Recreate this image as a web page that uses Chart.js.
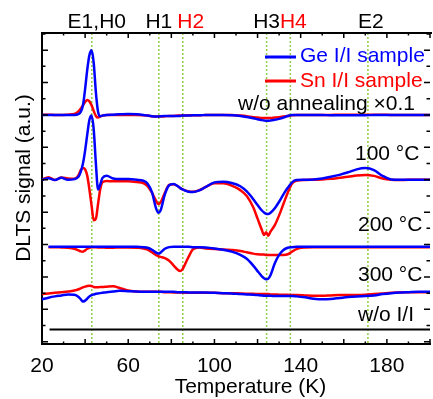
<!DOCTYPE html>
<html>
<head>
<meta charset="utf-8">
<script src="https://cdn.jsdelivr.net/npm/chart.js@4.4.1/dist/chart.umd.min.js"></script>
<style>
  html, body { margin: 0; padding: 0; background: #fff; }
  #wrap { width: 433px; height: 399px; overflow: hidden; position: relative; }
  canvas { display: block; }
</style>
</head>
<body>
<div id="wrap"><canvas id="dlts" width="440" height="399"></canvas></div>
<script>
// DLTS spectra, offset per annealing step (a.u.)
const temps = [20, 23, 26, 29, 32, 35, 37, 38, 39, 40, 41, 42, 43, 44, 45, 46, 47, 48, 50, 53,
    56, 60, 64, 67, 69, 71, 73, 74, 75, 77, 79, 81, 83, 84, 85, 86, 88, 90, 93, 96,
    100, 104, 108, 112, 115, 118, 120, 122, 123, 124, 125, 126, 128, 130, 132, 134, 136, 138, 142, 146,
    150, 154, 158, 162, 166, 170, 174, 178, 182, 186, 190, 195, 200];

// w/o annealing (x0.1)
const geAsImpl = [7.0, 7.0, 7.0, 7.0, 7.0, 7.0, 7.03, 7.1, 7.3, 7.8, 8.4, 8.85, 9.0, 8.6, 7.7, 7.1, 6.96, 6.98, 7.0, 7.01,
    7.02, 7.03, 7.02, 7.0, 6.98, 6.96, 6.95, 6.95, 6.96, 6.97, 6.97, 6.97, 6.97, 6.97, 6.98, 6.98, 6.98, 6.99, 6.99, 7.0,
    7.0, 7.0, 6.99, 6.97, 6.94, 6.9, 6.87, 6.84, 6.83, 6.82, 6.82, 6.83, 6.85, 6.88, 6.92, 6.97, 7.0, 7.0, 7.0, 7.0,
    7.0, 6.99, 6.99, 6.99, 6.99, 6.99, 7.0, 7.0, 7.0, 7.0, 7.0, 7.0, 7.0];
const snAsImpl = [7.0, 7.01, 7.0, 7.0, 7.01, 7.03, 7.12, 7.2, 7.3, 7.4, 7.46, 7.42, 7.3, 7.12, 6.97, 6.92, 6.95, 6.98, 7.0, 7.0,
    7.0, 7.0, 7.0, 6.99, 6.98, 6.96, 6.95, 6.95, 6.95, 6.96, 6.97, 6.97, 6.98, 6.98, 6.98, 6.98, 6.99, 6.99, 6.99, 7.0,
    7.0, 7.0, 7.0, 6.98, 6.96, 6.93, 6.92, 6.91, 6.91, 6.91, 6.91, 6.91, 6.92, 6.93, 6.95, 6.97, 6.99, 7.0, 7.0, 7.0,
    7.0, 7.0, 7.01, 7.01, 7.01, 7.01, 7.01, 7.01, 7.0, 7.0, 7.0, 7.0, 7.0];

// 100 C
const ge100 = [5.0, 5.05, 4.99, 5.06, 5.0, 5.02, 5.1, 5.25, 5.5, 5.9, 6.4, 6.85, 6.98, 6.55, 5.5, 4.7, 4.85, 5.05, 5.12, 5.04,
    5.02, 5.02, 5.0, 4.97, 4.88, 4.62, 4.1, 3.98, 4.05, 4.55, 4.83, 4.87, 4.8, 4.75, 4.71, 4.68, 4.63, 4.62, 4.67, 4.78,
    4.92, 4.94, 4.9, 4.8, 4.64, 4.4, 4.22, 4.05, 3.99, 3.95, 3.94, 3.98, 4.12, 4.32, 4.55, 4.75, 4.92, 4.99, 5.0, 5.01,
    5.04, 5.09, 5.15, 5.23, 5.32, 5.36, 5.3, 5.12, 5.01, 5.0, 5.0, 5.0, 5.0];
const sn100 = [5.0, 5.08, 4.99, 5.07, 5.04, 5.03, 5.15, 5.3, 5.36, 5.32, 5.12, 4.7, 4.2, 3.75, 3.8, 4.25, 4.7, 4.92, 4.96, 4.95,
    4.95, 4.95, 4.93, 4.9, 4.8, 4.6, 4.34, 4.25, 4.3, 4.6, 4.84, 4.86, 4.8, 4.75, 4.71, 4.68, 4.64, 4.63, 4.68, 4.78,
    4.89, 4.89, 4.82, 4.68, 4.5, 4.15, 3.8, 3.45, 3.3, 3.38, 3.27, 3.4, 3.6, 3.9, 4.25, 4.6, 4.88, 4.97, 4.99, 5.0,
    5.01, 5.03, 5.06, 5.09, 5.13, 5.15, 5.12, 5.04, 5.0, 4.99, 5.0, 5.0, 5.0];

// 200 C
const ge200 = [null, 2.93, 2.93, 2.93, 2.93, 2.93, 2.93, 2.93, 2.93, 2.93, 2.93, 2.93, 2.93, 2.93, 2.93, 2.93, 2.93, 2.93, 2.93, 2.93,
    2.93, 2.93, 2.93, 2.92, 2.9, 2.84, 2.75, 2.72, 2.75, 2.87, 2.92, 2.93, 2.93, 2.93, 2.93, 2.93, 2.93, 2.92, 2.92, 2.91,
    2.88, 2.84, 2.78, 2.68, 2.56, 2.35, 2.18, 2.02, 1.96, 1.93, 1.95, 2.05, 2.42, 2.68, 2.83, 2.9, 2.92, 2.93, 2.93, 2.93,
    2.93, 2.93, 2.93, 2.93, 2.93, 2.93, 2.93, 2.93, 2.93, 2.93, 2.93, 2.93, 2.93];
const sn200 = [null, 2.92, 2.92, 2.91, 2.9, 2.87, 2.82, 2.79, 2.78, 2.82, 2.87, 2.9, 2.92, 2.92, 2.92, 2.91, 2.91, 2.91, 2.9, 2.9,
    2.91, 2.91, 2.9, 2.88, 2.84, 2.76, 2.67, 2.64, 2.62, 2.58, 2.5, 2.36, 2.22, 2.18, 2.22, 2.34, 2.62, 2.85, 2.91, 2.88,
    2.86, 2.85, 2.83, 2.8, 2.76, 2.72, 2.7, 2.69, 2.69, 2.68, 2.68, 2.68, 2.68, 2.68, 2.68, 2.7, 2.78, 2.86, 2.91, 2.92,
    2.92, 2.92, 2.92, 2.92, 2.92, 2.92, 2.92, 2.92, 2.92, 2.92, 2.92, 2.92, 2.92];

// 300 C
const ge300 = [1.31, 1.36, 1.4, 1.43, 1.46, 1.45, 1.38, 1.31, 1.24, 1.27, 1.33, 1.4, 1.44, 1.46, 1.48, 1.49, 1.5, 1.51, 1.53, 1.55,
    1.57, 1.56, 1.55, 1.54, 1.54, 1.54, 1.54, 1.54, 1.54, 1.54, 1.54, 1.54, 1.53, 1.53, 1.53, 1.53, 1.52, 1.52, 1.52, 1.52,
    1.51, 1.5, 1.49, 1.47, 1.46, 1.45, 1.44, 1.43, 1.42, 1.42, 1.42, 1.42, 1.41, 1.41, 1.41, 1.41, 1.41, 1.4, 1.37, 1.33,
    1.31, 1.32, 1.35, 1.38, 1.4, 1.41, 1.43, 1.47, 1.5, 1.52, 1.53, 1.54, 1.54];
const sn300 = [1.47, 1.49, 1.51, 1.53, 1.55, 1.58, 1.62, 1.65, 1.68, 1.7, 1.72, 1.73, 1.72, 1.69, 1.68, 1.68, 1.69, 1.69, 1.7, 1.71,
    1.66, 1.58, 1.55, 1.54, 1.54, 1.54, 1.54, 1.54, 1.54, 1.53, 1.53, 1.52, 1.52, 1.52, 1.52, 1.51, 1.51, 1.51, 1.51, 1.51,
    1.51, 1.5, 1.5, 1.49, 1.48, 1.48, 1.47, 1.47, 1.47, 1.47, 1.47, 1.46, 1.46, 1.45, 1.45, 1.45, 1.44, 1.44, 1.43, 1.42,
    1.42, 1.43, 1.44, 1.44, 1.44, 1.45, 1.47, 1.49, 1.51, 1.52, 1.53, 1.53, 1.53];

// w/o I/I reference
const refTemps = [23.5, 60, 100, 140, 180, 200];
const refSignal = [0.38, 0.38, 0.38, 0.38, 0.38, 0.38];

// trap levels
const trapNames = ['E1,H0', 'H1', 'H2', 'H3', 'H4', 'E2'];
const trapTemps = [43.1, 74.2, 85.3, 124.2, 135.2, 171.2];

const curveNames = ['w/o annealing \u00d70.1', '100 \u00b0C', '200 \u00b0C', '300 \u00b0C', 'w/o I/I'];
const seriesNames = ['Ge I/I sample', 'Sn I/I sample'];

// styling only
const trapColors = ['#000', '#000', '#f00', '#000', '#f00', '#000'];
const trapShift = [5, 0, 8, 0, 3, 3];
const curveLabelPos = [[238, 110], [355, 160], [358, 230.5], [358, 280.5], [358, 321]];
const FONT = '21px "Liberation Sans", Arial, sans-serif';
const BLUE = '#0000ff';
const RED = '#ff0000';

function pts(ts, vs) {
    return ts.map((t, i) => ({ x: t, y: vs[i] }));
}

function line(data, color, width) {
    return {
        data: data,
        borderColor: color,
        borderWidth: width || 2.5,
        pointRadius: 0,
        fill: false,
        cubicInterpolationMode: 'monotone'
    };
}

const decorPlugin = {
    id: 'decor',
    beforeDatasetsDraw(chart) {
        const { ctx, chartArea: a, scales: { x } } = chart;
        ctx.save();
        ctx.strokeStyle = '#8fcf45';
        ctx.lineWidth = 1.5;
        ctx.setLineDash([2, 2]);
        trapTemps.forEach(t => {
            const px = x.getPixelForValue(t);
            ctx.beginPath();
            ctx.moveTo(px, a.top);
            ctx.lineTo(px, a.bottom);
            ctx.stroke();
        });
        ctx.restore();
    },
    afterDraw(chart) {
        const { ctx, chartArea: a, scales: { x, y } } = chart;
        ctx.save();
        ctx.strokeStyle = '#000';
        ctx.lineWidth = 2;

        // top frame line
        ctx.beginPath();
        ctx.moveTo(a.left, a.top);
        ctx.lineTo(a.right + 2, a.top);
        ctx.stroke();

        // inward ticks
        ctx.lineWidth = 1.5;
        for (let v = 0; v <= 9.5; v += 0.5) {
            const py = y.getPixelForValue(v);
            const len = Number.isInteger(v) ? 6 : 3.5;
            ctx.beginPath();
            ctx.moveTo(a.left, py); ctx.lineTo(a.left + len, py);
            ctx.moveTo(a.right, py); ctx.lineTo(a.right - len, py);
            ctx.stroke();
        }
        for (let t = 20; t <= 200; t += 10) {
            const px = x.getPixelForValue(t);
            const len = t % 20 === 0 ? 5 : 2.5;
            ctx.beginPath();
            ctx.moveTo(px, a.bottom); ctx.lineTo(px, a.bottom - len);
            ctx.moveTo(px, a.top); ctx.lineTo(px, a.top + len);
            ctx.stroke();
        }

        ctx.font = FONT;
        ctx.textBaseline = 'alphabetic';

        // trap labels above the frame
        ctx.textAlign = 'center';
        trapNames.forEach((name, i) => {
            ctx.fillStyle = trapColors[i];
            ctx.fillText(name, x.getPixelForValue(trapTemps[i]) + trapShift[i], 28);
        });

        // curve labels
        ctx.textAlign = 'left';
        ctx.fillStyle = '#000';
        curveNames.forEach((name, i) => {
            ctx.fillText(name, curveLabelPos[i][0], curveLabelPos[i][1]);
        });

        // legend
        [BLUE, RED].forEach((c, i) => {
            const ly = 57 + i * 24;
            ctx.strokeStyle = c;
            ctx.lineWidth = 3;
            ctx.beginPath();
            ctx.moveTo(265, ly);
            ctx.lineTo(296, ly);
            ctx.stroke();
            ctx.fillStyle = c;
            ctx.fillText(seriesNames[i], 300, 62 + i * 24.5);
        });

        // axis titles
        ctx.fillStyle = '#000';
        ctx.textAlign = 'center';
        ctx.fillText('Temperature (K)', 250.5, 393);
        ctx.translate(30, 178);
        ctx.rotate(-Math.PI / 2);
        ctx.fillText('DLTS signal (a.u.)', 0, 0);
        ctx.restore();
    }
};

Chart.defaults.font.family = '"Liberation Sans", Arial, sans-serif';
Chart.defaults.color = '#000';

new Chart(document.getElementById('dlts'), {
    type: 'line',
    data: {
        datasets: [
            line(pts(temps, geAsImpl), BLUE),
            line(pts(temps, ge100), BLUE),
            line(pts(temps, ge200), BLUE),
            line(pts(temps, ge300), BLUE),
            line(pts(temps, snAsImpl), RED),
            line(pts(temps, sn100), RED),
            line(pts(temps, sn200), RED),
            line(pts(temps, sn300), RED),
            line(pts(refTemps, refSignal), '#000', 2)
        ]
    },
    options: {
        responsive: false,
        animation: false,
        events: [],
        layout: { padding: { top: 33, right: 4, left: 0, bottom: 0 } },
        plugins: { legend: { display: false }, tooltip: { enabled: false } },
        scales: {
            x: {
                type: 'linear',
                min: 20,
                max: 200,
                afterFit(scale) { scale.height = 55; },
                grid: { display: false, drawTicks: false },
                border: { display: true, color: '#000', width: 2 },
                ticks: {
                    stepSize: 20,
                    autoSkip: false,
                    maxRotation: 0,
                    padding: 10,
                    font: { size: 21 },
                    callback: v => ((v - 20) % 40 === 0 ? v : '')
                }
            },
            y: {
                min: -0.07,
                max: 9.53,
                afterFit(scale) { scale.width = 42; },
                grid: { display: false, drawTicks: false },
                border: { display: true, color: '#000', width: 2 },
                ticks: { display: false }
            }
        }
    },
    plugins: [decorPlugin]
});
</script>
</body>
</html>
